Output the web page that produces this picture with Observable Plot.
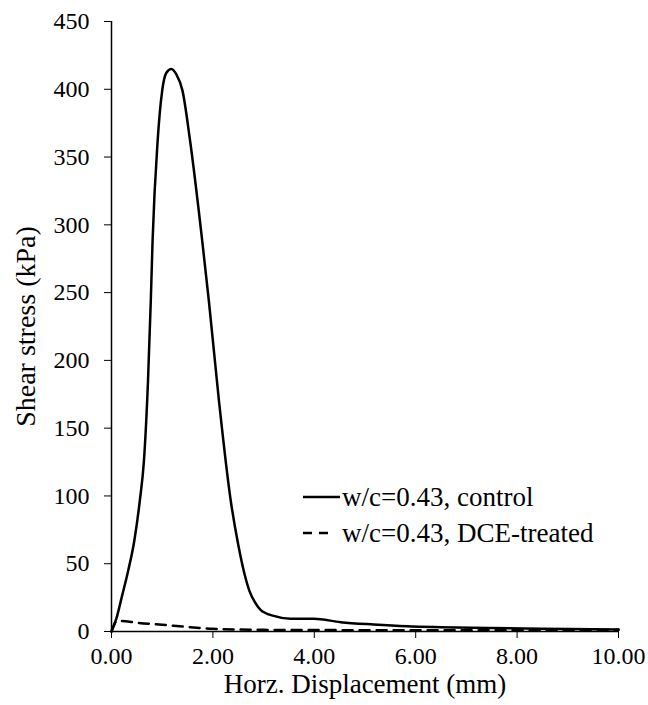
<!DOCTYPE html>
<html>
<head>
<meta charset="utf-8">
<script src="https://cdn.jsdelivr.net/npm/d3@7"></script>
<script src="https://cdn.jsdelivr.net/npm/@observablehq/plot@0.6"></script>
<style>
  html, body { margin: 0; padding: 0; background: #fff; }
  #wrap { position: relative; width: 648px; height: 705px; }
  #legend { position: absolute; left: 0; top: 0; width: 648px; height: 705px; pointer-events: none; }
</style>
</head>
<body>
<div id="wrap"></div>
<script>
// Control series (w/c=0.43, control)
const controlX = [0, 0.1, 0.2, 0.33, 0.45, 0.56, 0.64, 0.72, 0.775, 0.81, 0.91, 1.0, 1.08, 1.18, 1.28, 1.4, 1.55, 1.79, 1.92, 2.12, 2.35, 2.5, 2.62, 2.72, 2.84, 2.94, 3.2, 3.53, 3.99, 4.52, 5.17, 5.83, 6.49, 7.5, 8.5, 10.0];
const controlY = [0, 10, 25, 45, 67, 97, 126, 185, 244, 288, 362, 399, 412, 415, 411, 399, 362, 288, 244, 170, 97, 64, 43, 30, 21, 16, 11.5, 9.4, 9.4, 6.9, 5.2, 3.9, 3.2, 2.5, 2, 1.5];
// DCE-treated series
const treatedX = [0, 0.1, 0.2, 0.5, 1.0, 1.5, 2.0, 3.0, 5.0, 8.0, 10.0];
const treatedY = [0, 7.5, 7.8, 6.5, 5, 3.3, 2, 1.2, 1, 1, 1.2];

const xTicks = [0, 2, 4, 6, 8, 10];
const yTicks = [0, 50, 100, 150, 200, 250, 300, 350, 400, 450];
const seriesNames = ["w/c=0.43, control", "w/c=0.43, DCE-treated"];
const xLabel = "Horz. Displacement (mm)";
const yLabel = "Shear stress (kPa)";

const control = controlX.map((x, i) => ({x, y: controlY[i]}));
const treated = treatedX.map((x, i) => ({x, y: treatedY[i]}));

const font = "'Liberation Serif', 'Times New Roman', serif";

const chart = Plot.plot({
  width: 648,
  height: 705,
  marginLeft: 111,
  marginRight: 30,
  marginTop: 21,
  marginBottom: 74,
  style: {fontFamily: font, fontSize: "24px", color: "black", background: "white"},
  x: {domain: [0, 10]},
  y: {domain: [0, 450]},
  marks: [
    Plot.axisX({ticks: xTicks, tickFormat: d3.format(".2f"), tickSize: 7, tickPadding: 8, tickWidth: 1.5,
      fontSize: 24, label: null}),
    Plot.axisX({ticks: [], label: xLabel, labelAnchor: "center", labelOffset: 61, labelArrow: "none", fontSize: 27}),
    Plot.axisY({ticks: yTicks, tickFormat: d3.format("d"), tickSize: 7, tickPadding: 15, tickWidth: 1.5,
      fontSize: 24, label: null}),
    Plot.axisY({ticks: [], label: yLabel, labelAnchor: "center", labelOffset: 96, labelArrow: "none", fontSize: 28}),
    Plot.ruleX([0], {stroke: "black", strokeWidth: 1.5}),
    Plot.ruleY([0], {stroke: "black", strokeWidth: 1.5}),
    Plot.line(treated, {x: "x", y: "y", stroke: "black", strokeWidth: 2.5, strokeDasharray: "10,7", curve: "monotone-x"}),
    Plot.line(control, {x: "x", y: "y", stroke: "black", strokeWidth: 2.5, curve: "monotone-x"})
  ]
});

// force tick label size on the text elements themselves
d3.select(chart).selectAll("text")
  .filter(function() { return /^[0-9]/.test(this.textContent); })
  .attr("font-size", 24)
  .style("font-size", "24px")
  .style("font-family", font);

const wrap = document.getElementById("wrap");
wrap.appendChild(chart);

// Legend overlay
const ns = "http://www.w3.org/2000/svg";
const leg = document.createElementNS(ns, "svg");
leg.setAttribute("id", "legend");
leg.setAttribute("width", 648);
leg.setAttribute("height", 705);
const items = [
  {y: 497, dash: null, x2: 340},
  {y: 533, dash: "9,7", x2: 330}
];
items.forEach((it, i) => {
  const ln = document.createElementNS(ns, "line");
  ln.setAttribute("x1", 303); ln.setAttribute("x2", it.x2);
  ln.setAttribute("y1", it.y); ln.setAttribute("y2", it.y);
  ln.setAttribute("stroke", "black"); ln.setAttribute("stroke-width", 2.5);
  if (it.dash) ln.setAttribute("stroke-dasharray", it.dash);
  leg.appendChild(ln);
  const t = document.createElementNS(ns, "text");
  t.setAttribute("x", 342); t.setAttribute("y", it.y);
  t.setAttribute("dy", "0.35em");
  t.setAttribute("font-family", font);
  t.setAttribute("font-size", 27);
  t.setAttribute("fill", "black");
  t.textContent = seriesNames[i];
  leg.appendChild(t);
});
wrap.appendChild(leg);
</script>
</body>
</html>
